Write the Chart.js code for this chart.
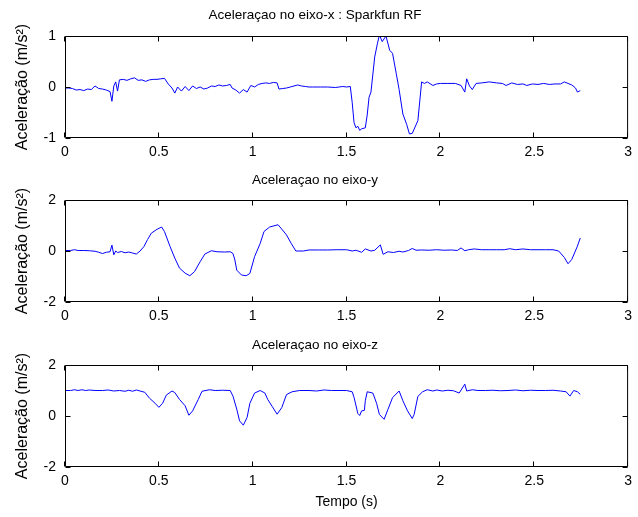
<!DOCTYPE html>
<html>
<head>
<meta charset="utf-8">
<script src="https://cdn.jsdelivr.net/npm/chart.js@4.4.0/dist/chart.umd.min.js"></script>
<style>
  body { margin: 0; background: #fff; }
  #wrap { position: relative; width: 638px; height: 517px; }
  canvas { position: absolute; left: 0; }
</style>
</head>
<body>
<div id="wrap">
  <canvas id="cx" width="638" height="165" style="top:0px"></canvas>
  <canvas id="cy" width="638" height="165" style="top:165px"></canvas>
  <canvas id="cz" width="638" height="187" style="top:330px"></canvas>
</div>
<script>
// time axis ticks (s)
const timeTicks = [0, 0.5, 1, 1.5, 2, 2.5, 3];

// eixo-x
const tX = [0.00,0.02,0.04,0.06,0.08,0.10,0.12,0.14,0.16,0.18,0.20,0.22,0.24,0.25,0.26,0.27,0.28,0.29,0.31,0.33,
  0.35,0.37,0.39,0.41,0.43,0.45,0.47,0.49,0.51,0.53,0.55,0.57,0.585,0.60,0.62,0.64,0.66,0.68,0.70,0.72,
  0.74,0.76,0.78,0.80,0.82,0.84,0.86,0.88,0.89,0.91,0.93,0.95,0.97,0.99,1.01,1.03,1.05,1.07,1.09,1.11,
  1.13,1.14,1.16,1.18,1.20,1.22,1.24,1.26,1.28,1.30,1.32,1.36,1.40,1.44,1.46,1.48,1.50,1.52,1.53,1.54,
  1.55,1.56,1.57,1.58,1.60,1.61,1.62,1.63,1.65,1.665,1.675,1.69,1.71,1.73,1.745,1.765,1.78,1.80,1.82,1.835,
  1.85,1.88,1.90,1.915,1.93,1.96,1.98,2.00,2.04,2.08,2.11,2.13,2.14,2.155,2.17,2.19,2.22,2.26,2.30,2.33,
  2.35,2.38,2.41,2.44,2.46,2.49,2.52,2.55,2.58,2.61,2.64,2.66,2.68,2.70,2.72,2.73,2.745];
const accX = [-0.02,-0.02,-0.03,-0.06,-0.05,-0.07,-0.04,-0.05,0.02,-0.03,-0.04,-0.06,-0.09,-0.28,0.02,0.10,-0.08,0.14,0.15,0.13,
  0.16,0.18,0.13,0.14,0.11,0.14,0.15,0.15,0.16,0.17,0.06,-0.02,-0.12,0.00,-0.08,0.01,-0.07,0.02,-0.03,0.00,
  -0.04,-0.02,0.02,0.01,0.04,0.02,0.03,0.05,-0.02,-0.06,-0.12,-0.05,-0.10,0.03,0.00,0.05,0.07,0.08,0.07,0.09,
  0.08,-0.04,-0.03,-0.02,0.00,0.02,0.04,0.02,0.01,0.00,0.00,0.00,0.00,-0.01,0.00,0.01,0.00,0.01,-0.30,-0.70,
  -0.80,-0.77,-0.85,-0.82,-0.80,-0.55,-0.20,-0.10,0.59,0.86,1.02,0.89,1.00,0.72,0.66,0.26,-0.05,-0.53,-0.73,-0.92,
  -0.91,-0.66,0.10,0.07,0.10,0.03,0.06,0.07,0.07,0.07,0.03,-0.10,0.16,0.02,-0.05,0.07,0.08,0.10,0.08,0.07,
  0.03,0.08,0.05,0.06,0.03,0.06,0.05,0.07,0.05,0.06,0.06,0.10,0.07,0.04,-0.02,-0.10,-0.07];

// eixo-y
const tY = [0.00,0.03,0.05,0.07,0.10,0.13,0.16,0.18,0.20,0.22,0.24,0.25,0.26,0.27,0.28,0.30,0.32,0.34,0.36,0.38,
  0.40,0.42,0.44,0.46,0.49,0.515,0.53,0.56,0.585,0.61,0.64,0.665,0.69,0.72,0.745,0.78,0.81,0.85,0.88,0.895,
  0.905,0.915,0.94,0.965,0.985,1.01,1.04,1.06,1.09,1.135,1.15,1.18,1.205,1.23,1.27,1.30,1.35,1.40,1.45,1.50,
  1.53,1.55,1.58,1.60,1.63,1.65,1.68,1.695,1.72,1.75,1.78,1.80,1.83,1.85,1.87,1.90,1.94,1.98,2.02,2.06,
  2.09,2.11,2.13,2.15,2.18,2.22,2.26,2.30,2.34,2.37,2.40,2.44,2.48,2.52,2.56,2.60,2.63,2.66,2.68,2.70,
  2.73,2.745];
const accY = [0.02,0.02,0.05,0.02,0.02,0.01,-0.01,-0.05,-0.10,-0.05,-0.03,0.23,-0.15,0.00,-0.06,-0.02,-0.07,-0.04,-0.08,-0.12,
  0.00,0.17,0.45,0.70,0.85,0.94,0.76,0.17,-0.28,-0.67,-0.87,-0.97,-0.81,-0.42,-0.12,0.01,-0.03,-0.04,-0.03,-0.10,
  -0.35,-0.75,-0.94,-0.97,-0.88,-0.22,0.30,0.76,0.94,1.03,0.90,0.63,0.30,0.00,0.00,0.04,0.04,0.04,0.05,0.05,
  0.00,0.03,-0.05,0.08,0.00,0.03,0.24,-0.13,-0.03,-0.06,-0.01,-0.04,0.02,0.10,0.03,0.04,0.03,0.05,0.03,0.04,
  0.02,0.12,0.01,0.05,0.08,0.05,0.05,0.05,0.05,0.09,0.05,0.08,0.05,0.05,0.05,0.05,0.00,-0.25,-0.50,-0.33,
  0.19,0.51];

// eixo-z
const tZ = [0.00,0.03,0.05,0.07,0.09,0.11,0.13,0.16,0.20,0.23,0.26,0.29,0.32,0.34,0.36,0.38,0.40,0.425,0.45,0.48,
  0.50,0.52,0.54,0.57,0.585,0.61,0.64,0.66,0.68,0.71,0.73,0.77,0.80,0.84,0.88,0.895,0.915,0.93,0.95,0.97,
  0.985,1.01,1.04,1.065,1.08,1.105,1.13,1.155,1.18,1.21,1.25,1.30,1.34,1.38,1.42,1.46,1.50,1.53,1.54,1.56,
  1.57,1.58,1.595,1.60,1.61,1.64,1.66,1.675,1.70,1.72,1.745,1.78,1.80,1.825,1.85,1.86,1.88,1.905,1.93,1.96,
  1.98,2.01,2.04,2.07,2.10,2.13,2.14,2.17,2.20,2.24,2.28,2.32,2.36,2.40,2.44,2.48,2.52,2.56,2.60,2.64,
  2.67,2.69,2.71,2.73,2.745];
const accZ = [1.00,1.00,1.03,1.00,1.03,1.00,1.02,1.00,1.00,1.02,0.98,1.00,0.97,1.01,0.97,1.02,0.98,0.93,0.70,0.50,
  0.34,0.50,0.82,0.98,0.92,0.65,0.40,0.03,0.20,0.65,0.97,1.03,1.00,1.01,1.00,0.78,0.27,-0.19,-0.36,-0.06,
  0.50,0.90,1.00,0.90,0.65,0.36,0.07,0.33,0.84,0.95,1.00,1.00,0.98,1.02,1.00,1.00,1.00,0.95,0.73,0.10,
  0.02,0.20,0.22,0.60,0.95,0.90,0.50,0.06,-0.13,0.25,0.72,0.98,0.60,0.20,-0.10,0.06,0.77,0.95,1.03,0.98,
  1.02,0.98,1.01,0.99,0.90,1.25,0.98,1.03,1.00,1.00,1.01,0.99,1.00,1.02,0.99,1.01,1.00,1.00,1.01,0.98,
  0.95,0.78,1.00,0.95,0.85];

const FONT = 'Liberation Sans, Arial, sans-serif';

// matlab style box with inward ticks on all four sides
const boxPlugin = {
  id: 'box',
  afterDatasetsDraw(chart) {
    const { ctx, chartArea: a, scales } = chart;
    const L = a.left + 0.5, R = a.right - 0.5, T = a.top + 0.5, B = a.bottom - 0.5;
    ctx.save();
    ctx.strokeStyle = '#000';
    ctx.lineWidth = 1;
    ctx.beginPath();
    ctx.rect(L, T, R - L, B - T);
    scales.x.ticks.forEach(t => {
      const px = Math.round(scales.x.getPixelForValue(t.value)) - 0.5;
      ctx.moveTo(px, B); ctx.lineTo(px, B - 5);
      ctx.moveTo(px, T); ctx.lineTo(px, T + 5);
    });
    scales.y.ticks.forEach(t => {
      const py = Math.round(scales.y.getPixelForValue(t.value)) + 0.5;
      ctx.moveTo(L, py); ctx.lineTo(L + 5, py);
      ctx.moveTo(R, py); ctx.lineTo(R - 5, py);
    });
    ctx.stroke();
    ctx.restore();
  }
};

function makeChart(id, title, times, values, yMax, xAxisH, xTitle) {
  const pts = times.map((t, i) => ({ x: t, y: values[i] }));
  return new Chart(document.getElementById(id), {
    type: 'line',
    data: {
      datasets: [{
        data: pts,
        borderColor: '#0000ff',
        borderWidth: 1,
        pointRadius: 0,
        tension: 0,
        fill: false
      }]
    },
    options: {
      responsive: false,
      animation: false,
      layout: { padding: { left: 0, right: 8, top: 0, bottom: 0 } },
      plugins: {
        legend: { display: false },
        tooltip: { enabled: false },
        title: {
          display: true,
          text: title,
          color: '#000',
          font: { family: FONT, size: 13.5, weight: 'normal' },
          padding: { top: 7, bottom: id === 'cx' ? 12.8 : 11.8 }
        }
      },
      scales: {
        x: {
          type: 'linear',
          min: 0,
          max: 3,
          afterBuildTicks: s => { s.ticks = timeTicks.map(v => ({ value: v })); },
          ticks: {
            color: '#000', font: { family: FONT, size: 14 }, padding: 6, maxRotation: 0,
            callback: v => String(v)
          },
          grid: { drawOnChartArea: false, drawTicks: false },
          border: { display: false },
          title: {
            display: !!xTitle,
            text: xTitle || '',
            color: '#000',
            font: { family: FONT, size: 14 },
            padding: { top: 0, bottom: 6 }
          },
          afterFit: s => { s.height = xAxisH; }
        },
        y: {
          min: -yMax,
          max: yMax,
          ticks: {
            stepSize: yMax, color: '#000', font: { family: FONT, size: 14 }, padding: 9,
            callback: v => String(v)
          },
          grid: { drawOnChartArea: false, drawTicks: false },
          border: { display: false },
          title: {
            display: true,
            text: 'Aceleração (m/s²)',
            color: '#000',
            font: { family: FONT, size: 16 },
            padding: { top: 13, bottom: 0 }
          },
          afterFit: s => { s.width = 65; }
        }
      }
    },
    plugins: [boxPlugin]
  });
}

makeChart('cx', 'Aceleraçao no eixo-x : Sparkfun RF', tX, accX, 1, 27);
makeChart('cy', 'Aceleraçao no eixo-y', tY, accY, 2, 28);
makeChart('cz', 'Aceleraçao no eixo-z', tZ, accZ, 2, 50, 'Tempo (s)');
</script>
</body>
</html>
